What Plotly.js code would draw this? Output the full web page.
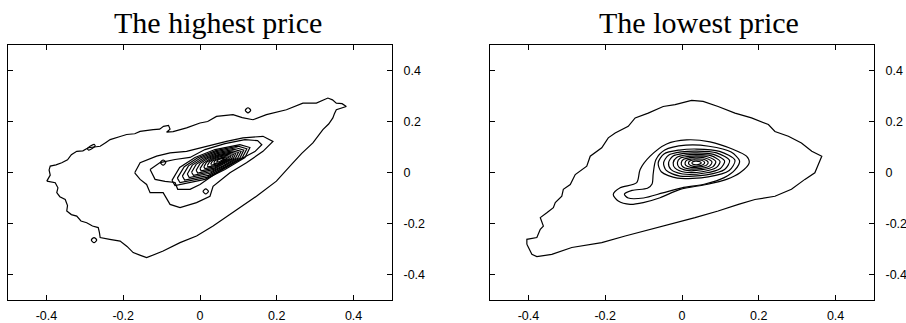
<!DOCTYPE html>
<html>
<head>
<meta charset="utf-8">
<script src="https://cdn.plot.ly/plotly-3.0.1.min.js"></script>
<style>html,body{margin:0;padding:0;background:#fff;}#chart{width:906px;height:323px;}</style>
</head>
<body>
<div id="chart"></div>
<script>
// ---- tick labels ----
const tickVals = [-0.4, -0.2, 0, 0.2, 0.4];
const tickText = ["-0.4", "-0.2", "0", "0.2", "0.4"];
const panelTitles = ["The highest price", "The lowest price"];

// ---- The highest price: contour lines ----
const hiOuterX = [-0.399,-0.39,-0.393,-0.39,-0.375,-0.36,-0.345,-0.335,-0.321,-0.305,-0.291,-0.26,-0.245,-0.234,-0.21,-0.191,-0.17,-0.156,-0.122,-0.105,-0.095,-0.082,-0.078,-0.087,-0.07,-0.035,0.0,0.02,0.043,0.086,0.11,0.138,0.173,0.225,0.268,0.303,0.333,0.345,0.355,0.37,0.381,0.365,0.355,0.35,0.346,0.335,0.32,0.294,0.265,0.242,0.199,0.147,0.086,0.034,-0.009,-0.052,-0.096,-0.139,-0.155,-0.174,-0.19,-0.208,-0.235,-0.26,-0.262,-0.265,-0.28,-0.295,-0.31,-0.321,-0.335,-0.347,-0.345,-0.351,-0.365,-0.373,-0.37,-0.377];
const hiOuterY = [-0.034,-0.01,0.01,0.025,0.03,0.038,0.05,0.07,0.083,0.085,0.097,0.103,0.118,0.129,0.14,0.149,0.152,0.161,0.168,0.17,0.181,0.185,0.17,0.158,0.16,0.175,0.194,0.2,0.22,0.227,0.215,0.207,0.227,0.246,0.272,0.272,0.292,0.285,0.272,0.27,0.259,0.25,0.246,0.23,0.214,0.19,0.168,0.116,0.075,0.038,-0.034,-0.093,-0.158,-0.21,-0.249,-0.275,-0.308,-0.334,-0.325,-0.314,-0.29,-0.269,-0.262,-0.255,-0.235,-0.216,-0.21,-0.197,-0.19,-0.171,-0.165,-0.151,-0.13,-0.106,-0.095,-0.079,-0.06,-0.04];
const hiIslandsX = [[-0.293,-0.276,-0.273,-0.29],[0.118,0.125,0.132,0.125],[-0.283,-0.276,-0.269,-0.276],[-0.103,-0.096,-0.089,-0.096],[0.008,0.015,0.022,0.015]];
const hiIslandsY = [[0.094,0.11,0.104,0.088],[0.244,0.254,0.244,0.234],[-0.265,-0.255,-0.265,-0.275],[0.039,0.049,0.039,0.029],[-0.074,-0.064,-0.074,-0.084]];
const hiSecondX = [-0.17,-0.156,-0.113,-0.078,-0.035,0.017,0.069,0.112,0.164,0.19,0.164,0.121,0.078,0.034,0.026,-0.009,-0.052,-0.078,-0.096,-0.13,-0.139,-0.156];
const hiSecondY = [-0.001,0.038,0.064,0.077,0.083,0.103,0.122,0.136,0.142,0.122,0.083,0.038,-0.001,-0.054,-0.093,-0.118,-0.138,-0.125,-0.079,-0.079,-0.047,-0.027];
const hiThirdX = [-0.13,-0.104,-0.065,-0.026,0.013,0.065,0.117,0.15,0.161,0.143,0.104,0.065,0.026,0.0,-0.026,-0.058,-0.065,-0.091,-0.117];
const hiThirdY = [0.012,0.039,0.051,0.059,0.09,0.113,0.129,0.125,0.109,0.082,0.051,0.02,-0.02,-0.047,-0.066,-0.066,-0.039,-0.035,-0.027];
const hiRingsX = [
 [-0.073,-0.053,-0.013,0.039,0.104,0.13,0.117,0.065,0.013,-0.065],
 [-0.059,-0.041,-0.006,0.041,0.099,0.122,0.110,0.064,0.018,-0.052],
 [-0.046,-0.030,0.001,0.042,0.094,0.114,0.104,0.063,0.022,-0.040],
 [-0.033,-0.020,0.008,0.044,0.089,0.107,0.098,0.062,0.026,-0.028],
 [-0.022,-0.010,0.014,0.045,0.084,0.100,0.092,0.061,0.030,-0.017],
 [-0.010,0.000,0.020,0.047,0.080,0.093,0.087,0.060,0.034,-0.006],
 [0.000,0.009,0.026,0.048,0.076,0.087,0.082,0.059,0.037,0.003],
 [0.010,0.017,0.031,0.049,0.072,0.081,0.077,0.059,0.040,0.013],
 [0.019,0.025,0.036,0.051,0.069,0.076,0.072,0.058,0.043,0.021],
 [0.028,0.032,0.041,0.052,0.065,0.071,0.068,0.057,0.046,0.030],
 [0.036,0.039,0.045,0.053,0.062,0.066,0.064,0.057,0.049,0.037],
 [0.044,0.045,0.049,0.054,0.059,0.062,0.061,0.056,0.051,0.044]
];
const hiRingsY = [
 [-0.031,0.02,0.059,0.09,0.109,0.098,0.059,0.012,-0.027,-0.051],
 [-0.022,0.023,0.058,0.086,0.103,0.093,0.058,0.016,-0.019,-0.040],
 [-0.014,0.026,0.057,0.082,0.097,0.088,0.057,0.020,-0.011,-0.030],
 [-0.006,0.029,0.056,0.078,0.091,0.083,0.056,0.024,-0.003,-0.020],
 [0.001,0.032,0.055,0.074,0.085,0.079,0.055,0.027,0.004,-0.011],
 [0.009,0.035,0.055,0.070,0.080,0.075,0.055,0.031,0.011,-0.002],
 [0.015,0.037,0.054,0.067,0.075,0.071,0.054,0.034,0.017,0.007],
 [0.022,0.040,0.053,0.064,0.071,0.067,0.053,0.037,0.023,0.015],
 [0.027,0.042,0.053,0.061,0.067,0.063,0.053,0.039,0.028,0.022],
 [0.033,0.044,0.052,0.058,0.062,0.060,0.052,0.042,0.034,0.029],
 [0.038,0.046,0.051,0.056,0.059,0.057,0.051,0.044,0.038,0.035],
 [0.043,0.047,0.051,0.054,0.055,0.054,0.051,0.047,0.043,0.041]
];

// ---- The lowest price: contour lines ----
const loOuterX = [-0.404,-0.404,-0.378,-0.369,-0.361,-0.369,-0.352,-0.335,-0.33,-0.313,-0.309,-0.291,-0.278,-0.265,-0.248,-0.239,-0.226,-0.209,-0.192,-0.174,-0.14,-0.122,-0.088,-0.049,-0.018,0.025,0.055,0.094,0.138,0.181,0.225,0.242,0.277,0.311,0.338,0.364,0.355,0.346,0.32,0.285,0.242,0.19,0.147,0.094,0.034,-0.018,-0.088,-0.148,-0.209,-0.287,-0.339,-0.378,-0.391];
const loOuterY = [-0.281,-0.262,-0.255,-0.223,-0.21,-0.177,-0.158,-0.138,-0.118,-0.093,-0.066,-0.047,-0.008,0.005,0.025,0.064,0.077,0.097,0.136,0.155,0.181,0.214,0.233,0.259,0.266,0.283,0.279,0.259,0.233,0.214,0.188,0.161,0.142,0.116,0.083,0.064,0.031,-0.001,-0.027,-0.066,-0.093,-0.106,-0.125,-0.151,-0.177,-0.197,-0.223,-0.249,-0.275,-0.294,-0.321,-0.33,-0.321];
const loSecondX = [-0.179,-0.161,-0.118,-0.109,-0.083,-0.04,0.012,0.073,0.134,0.168,0.175,0.151,0.116,0.064,-0.005,-0.057,-0.101,-0.135,-0.166];
const loSecondY = [-0.086,-0.06,-0.04,0.012,0.064,0.112,0.128,0.12,0.09,0.064,0.038,-0.001,-0.027,-0.047,-0.066,-0.099,-0.118,-0.125,-0.112];
const loThirdX = [-0.15,-0.13,-0.09,-0.078,-0.075,-0.068,-0.045,0.01,0.07,0.128,0.15,0.138,0.11,0.06,0.0,-0.05,-0.1,-0.14];
const loThirdY = [-0.085,-0.07,-0.062,-0.045,-0.005,0.05,0.088,0.107,0.103,0.08,0.045,0.01,-0.02,-0.045,-0.06,-0.08,-0.1,-0.1];
const loRingsX = [
 [-0.062,-0.047,-0.007,0.038,0.098,0.138,0.123,0.068,-0.012,-0.054],
 [-0.048,-0.035,-0.001,0.038,0.090,0.124,0.111,0.064,-0.005,-0.041],
 [-0.035,-0.024,0.005,0.038,0.082,0.111,0.100,0.060,0.002,-0.029],
 [-0.023,-0.014,0.011,0.038,0.075,0.099,0.090,0.056,0.008,-0.018],
 [-0.012,-0.005,0.016,0.038,0.068,0.088,0.081,0.053,0.013,-0.008],
 [-0.002,0.004,0.020,0.038,0.062,0.078,0.072,0.050,0.018,0.001],
 [0.008,0.013,0.025,0.038,0.056,0.068,0.064,0.047,0.023,0.010],
 [0.017,0.020,0.029,0.038,0.051,0.059,0.056,0.044,0.028,0.019],
 [0.026,0.028,0.033,0.038,0.045,0.050,0.048,0.042,0.032,0.027]
];
const loRingsY = [
 [0.038,0.073,0.088,0.092,0.083,0.048,0.008,-0.017,-0.022,0.003],
 [0.038,0.068,0.081,0.084,0.077,0.047,0.012,-0.009,-0.014,0.008],
 [0.038,0.064,0.075,0.077,0.071,0.045,0.016,-0.002,-0.006,0.012],
 [0.038,0.059,0.069,0.071,0.066,0.044,0.020,0.004,0.001,0.017],
 [0.038,0.056,0.063,0.065,0.061,0.043,0.023,0.011,0.008,0.021],
 [0.038,0.052,0.058,0.060,0.056,0.042,0.026,0.016,0.014,0.024],
 [0.038,0.049,0.053,0.054,0.052,0.041,0.029,0.022,0.020,0.028],
 [0.038,0.045,0.049,0.049,0.048,0.040,0.032,0.026,0.025,0.031],
 [0.038,0.042,0.044,0.045,0.043,0.039,0.034,0.031,0.031,0.034]
];

// ---- build traces ----
const traces = [];
function addLoop(xs, ys, xa, ya, shape) {
  traces.push({
    type: 'scatter', mode: 'lines',
    x: xs.concat([xs[0]]), y: ys.concat([ys[0]]),
    xaxis: xa, yaxis: ya,
    line: {color: '#000', width: 1.2, shape: shape, smoothing: 0.8},
    hoverinfo: 'skip', showlegend: false
  });
}
addLoop(hiOuterX, hiOuterY, 'x', 'y', 'linear');
hiIslandsX.forEach((xs, i) => addLoop(xs, hiIslandsY[i], 'x', 'y', 'spline'));
addLoop(hiSecondX, hiSecondY, 'x', 'y', 'linear');
addLoop(hiThirdX, hiThirdY, 'x', 'y', 'linear');
hiRingsX.forEach((xs, i) => addLoop(xs, hiRingsY[i], 'x', 'y', 'linear'));

addLoop(loOuterX, loOuterY, 'x2', 'y2', 'linear');
addLoop(loSecondX, loSecondY, 'x2', 'y2', 'spline');
addLoop(loThirdX, loThirdY, 'x2', 'y2', 'spline');
loRingsX.forEach((xs, i) => addLoop(xs, loRingsY[i], 'x2', 'y2', 'spline'));

const tickFont = {family: 'Liberation Sans, Arial, sans-serif', size: 12.5, color: '#000'};
function xAx(domain, anchor) {
  return {domain: domain, anchor: anchor, range: [-0.5, 0.5], tickvals: tickVals, ticktext: tickText,
    ticks: 'inside', ticklen: 5, tickcolor: '#000', mirror: 'allticks', showline: true,
    linecolor: '#000', linewidth: 1, showgrid: false, zeroline: false, tickfont: tickFont,
    ticklabelstandoff: 4, fixedrange: true};
}
function yAx(anchor) {
  return {domain: [0, 1], anchor: anchor, side: 'right', range: [-0.5, 0.5], tickvals: tickVals, ticktext: tickText,
    ticks: 'inside', ticklen: 5, tickcolor: '#000', mirror: 'allticks', showline: true,
    linecolor: '#000', linewidth: 1, showgrid: false, zeroline: false, tickfont: tickFont,
    ticklabelstandoff: 8, fixedrange: true};
}
const titleFont = {family: 'Liberation Serif, Times New Roman, serif', size: 30, color: '#000'};
const layout = {
  width: 906, height: 323,
  margin: {l: 0, r: 0, t: 45, b: 23, pad: 0},
  paper_bgcolor: '#fff', plot_bgcolor: '#fff',
  showlegend: false,
  xaxis: xAx([8/906, 392/906], 'y'),
  yaxis: yAx('x'),
  xaxis2: xAx([490/906, 874/906], 'y2'),
  yaxis2: yAx('x2'),
  annotations: [
    {text: panelTitles[0], xref: 'paper', yref: 'paper', x: 217.5/906, y: 1.09, xanchor: 'center', yanchor: 'middle', showarrow: false, font: titleFont},
    {text: panelTitles[1], xref: 'paper', yref: 'paper', x: 699/906, y: 1.09, xanchor: 'center', yanchor: 'middle', showarrow: false, font: titleFont}
  ]
};
Plotly.newPlot('chart', traces, layout, {staticPlot: true, displayModeBar: false});
</script>
</body>
</html>
